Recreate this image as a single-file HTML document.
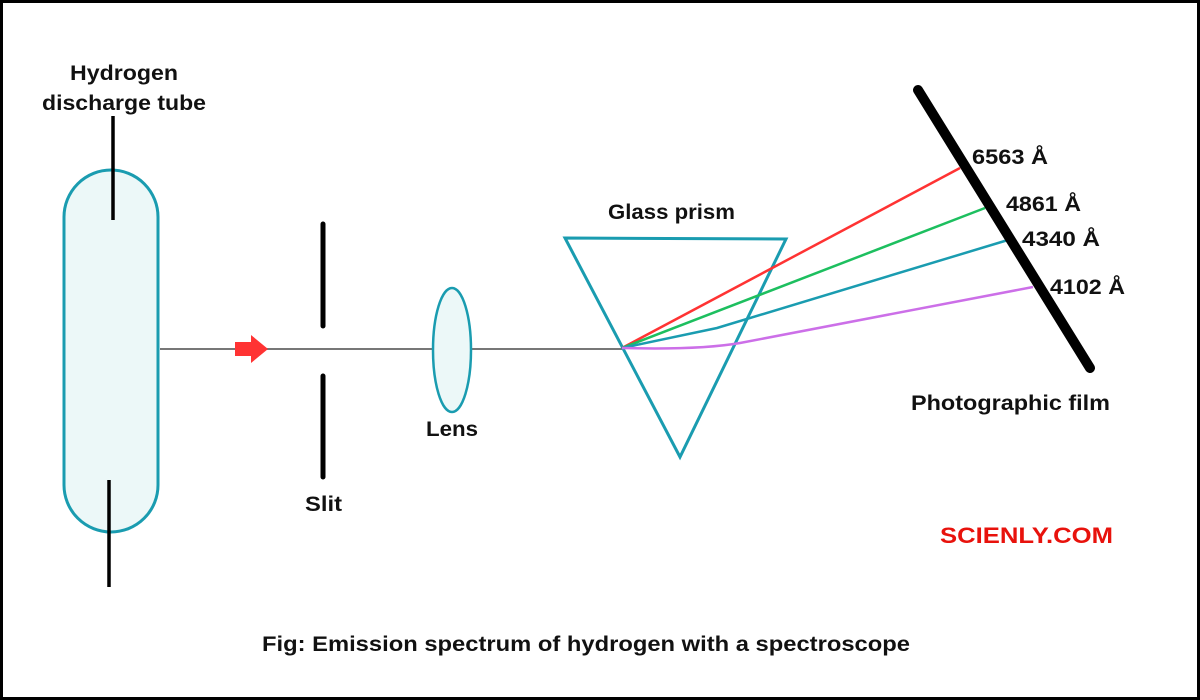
<!DOCTYPE html>
<html><head><style>
html,body{margin:0;padding:0;background:#fff}
svg{display:block}
text{font-family:"Liberation Sans",sans-serif;font-weight:bold;fill:#111}
</style></head><body>
<svg width="1200" height="700" viewBox="0 0 1200 700">
<rect x="1.5" y="1.5" width="1197" height="697" fill="#fff" stroke="#000" stroke-width="3"/>
<rect x="64" y="170" width="94" height="362" rx="47" fill="#ecf8f8" stroke="#1a9cb0" stroke-width="3"/>
<line x1="113" y1="116" x2="113" y2="220" stroke="#000" stroke-width="3.5"/>
<line x1="109" y1="480" x2="109" y2="587" stroke="#000" stroke-width="3.5"/>
<line x1="160" y1="349" x2="622" y2="349" stroke="#777" stroke-width="2"/>
<polygon points="235,342 251,342 251,335 268,349 251,363 251,356 235,356" fill="#f33"/>
<line x1="323" y1="224" x2="323" y2="326" stroke="#000" stroke-width="5" stroke-linecap="round"/>
<line x1="323" y1="376" x2="323" y2="477" stroke="#000" stroke-width="5" stroke-linecap="round"/>
<ellipse cx="452" cy="350" rx="19" ry="62" fill="#ecf8f8" stroke="#1a9cb0" stroke-width="2.5"/>
<polygon points="565,238 786,239 680,457" fill="none" stroke="#1a9cb0" stroke-width="3"/>
<line x1="622" y1="348" x2="960" y2="168" stroke="#f33" stroke-width="2.5"/>
<line x1="622" y1="348" x2="985" y2="208" stroke="#1dbf5f" stroke-width="2.5"/>
<polyline points="622,348 717,328 1008,240" fill="none" stroke="#1a9cb0" stroke-width="2.5"/>
<path d="M622,348 Q700,350 740,343 T1033,287" fill="none" stroke="#cc6fe8" stroke-width="2.5"/>
<line x1="918" y1="90" x2="1090" y2="368" stroke="#000" stroke-width="10" stroke-linecap="round"/>
<g font-size="21" lengthAdjust="spacingAndGlyphs">
<text x="70" y="80" textLength="108" lengthAdjust="spacingAndGlyphs">Hydrogen</text>
<text x="42" y="110" textLength="164" lengthAdjust="spacingAndGlyphs">discharge tube</text>
<text x="305" y="511" textLength="37" lengthAdjust="spacingAndGlyphs">Slit</text>
<text x="426" y="436" textLength="52" lengthAdjust="spacingAndGlyphs">Lens</text>
<text x="608" y="219" textLength="127" lengthAdjust="spacingAndGlyphs">Glass prism</text>
<text x="972" y="164" textLength="76" lengthAdjust="spacingAndGlyphs">6563 Å</text>
<text x="1006" y="211" textLength="75" lengthAdjust="spacingAndGlyphs">4861 Å</text>
<text x="1022" y="246" textLength="78" lengthAdjust="spacingAndGlyphs">4340 Å</text>
<text x="1050" y="294" textLength="75" lengthAdjust="spacingAndGlyphs">4102 Å</text>
<text x="911" y="410" textLength="199" lengthAdjust="spacingAndGlyphs">Photographic film</text>
<text x="262" y="651" textLength="648" lengthAdjust="spacingAndGlyphs">Fig: Emission spectrum of hydrogen with a spectroscope</text>
</g>
<text x="940" y="543" font-size="22" textLength="173" lengthAdjust="spacingAndGlyphs" style="fill:#e8120c">SCIENLY.COM</text>
</svg>
</body></html>
